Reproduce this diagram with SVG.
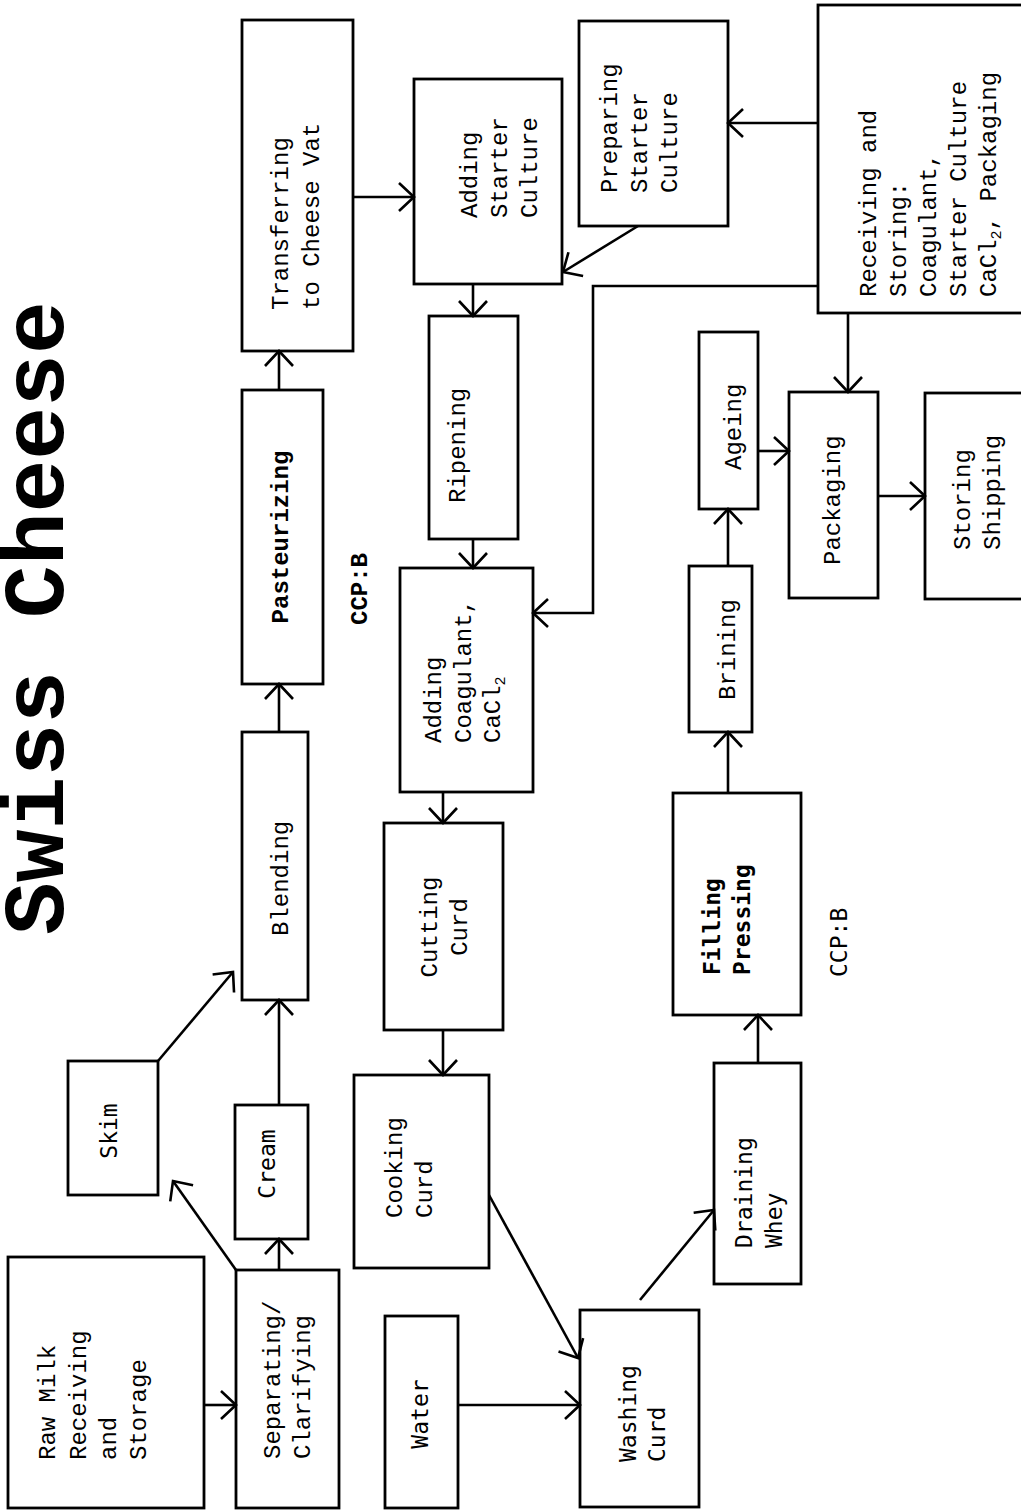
<svg xmlns="http://www.w3.org/2000/svg" width="1021" height="1512" viewBox="0 0 1021 1512">
<style>
.box{fill:none;stroke:#000;stroke-width:2.8}
.ln{fill:none;stroke:#000;stroke-width:2.6}
.c{font-family:"Liberation Mono","Courier New",monospace;font-size:24px;fill:#000}
.s{font-family:"DejaVu Sans Mono","Liberation Mono",monospace;font-size:23px;fill:#000}
.b{font-weight:bold}
.m{text-anchor:middle}
.sub{font-size:15px}
.title{font-family:"Liberation Mono","Courier New",monospace;font-size:88px;font-weight:bold;fill:#000}
</style>
<defs>
<marker id="a" viewBox="-20 -16 24 32" refX="0" refY="0" markerWidth="24" markerHeight="32" markerUnits="userSpaceOnUse" orient="auto" overflow="visible">
<path d="M-15,-14 L0,0 L-15,14" fill="none" stroke="#000" stroke-width="2.6"/>
</marker>
</defs>
<rect width="1021" height="1512" fill="#fff"/>

<text class="title" transform="rotate(-90)" x="-935" y="63">Swiss Cheese</text>

<g id="connectors" class="ln" marker-end="url(#a)">
<path d="M204,1405 L236,1405"/>
<path d="M279,1270 L279,1239"/>
<path d="M236,1270 L173,1181"/>
<path d="M279,1105 L279,1000"/>
<path d="M158,1061 L233,972"/>
<path d="M279,732 L279,684"/>
<path d="M279,390 L279,351"/>
<path d="M353,197 L414,197"/>
<path d="M638,226 L563,272"/>
<path d="M818,123 L728,123"/>
<path d="M473,284 L473,316"/>
<path d="M473,539 L473,568"/>
<path d="M818,286 L593,286 L593,613 L533,613"/>
<path d="M443,792 L443,823"/>
<path d="M443,1030 L443,1075"/>
<path d="M489,1195 L578,1358"/>
<path d="M458,1405 L580,1405"/>
<path d="M640,1300 L714,1210"/>
<path d="M758,1063 L758,1015"/>
<path d="M728,793 L728,732"/>
<path d="M728,566 L728,509"/>
<path d="M758,451 L789,451"/>
<path d="M848,313 L848,392"/>
<path d="M878,496 L925,496"/>
</g>

<g id="raw-milk">
<rect class="box" x="8" y="1257" width="196" height="251"/>
<text class="c" transform="rotate(-90)"><tspan x="-1460" y="55">Raw Milk</tspan><tspan x="-1460" y="86">Receiving</tspan><tspan x="-1460" y="116">and</tspan><tspan x="-1460" y="146">Storage</tspan></text>
</g>
<g id="separating">
<rect class="box" x="236" y="1270" width="103" height="238"/>
<text class="c" transform="rotate(-90)"><tspan x="-1459" y="280">Separating/</tspan><tspan x="-1459" y="310">Clarifying</tspan></text>
</g>
<g id="skim">
<rect class="box" x="68" y="1061" width="90" height="134"/>
<text class="s m" transform="rotate(-90)" x="-1131" y="117">Skim</text>
</g>
<g id="cream">
<rect class="box" x="235" y="1105" width="73" height="134"/>
<text class="s m" transform="rotate(-90)" x="-1164" y="275">Cream</text>
</g>
<g id="blending">
<rect class="box" x="242" y="732" width="66" height="268"/>
<text class="c" transform="rotate(-90)" x="-936" y="288">Blending</text>
</g>
<g id="pasteurizing">
<rect class="box" x="242" y="390" width="81" height="294"/>
<text class="c b m" transform="rotate(-90)" x="-537" y="288">Pasteurizing</text>
</g>
<g id="ccp1">
<text class="c b" transform="rotate(-90)" x="-625" y="367">CCP:B</text>
</g>
<g id="transferring">
<rect class="box" x="242" y="20" width="111" height="331"/>
<text class="c" transform="rotate(-90)"><tspan x="-310" y="288">Transferring</tspan><tspan x="-310" y="319">to Cheese Vat</tspan></text>
</g>
<g id="adding-starter">
<rect class="box" x="414" y="79" width="148" height="205"/>
<text class="c" transform="rotate(-90)"><tspan x="-218" y="477">Adding</tspan><tspan x="-218" y="507">Starter</tspan><tspan x="-218" y="537">Culture</tspan></text>
</g>
<g id="preparing-starter">
<rect class="box" x="579" y="21" width="149" height="205"/>
<text class="c" transform="rotate(-90)"><tspan x="-193" y="617">Preparing</tspan><tspan x="-193" y="647">Starter</tspan><tspan x="-193" y="677">Culture</tspan></text>
</g>
<g id="receiving-storing">
<rect class="box" x="818" y="5" width="210" height="308"/>
<text class="c" transform="rotate(-90)"><tspan x="-297" y="876">Receiving and</tspan><tspan x="-297" y="906">Storing:</tspan><tspan x="-297" y="936">Coagulant,</tspan><tspan x="-297" y="966">Starter Culture</tspan><tspan x="-297" y="996">CaCl<tspan class="sub" dy="5">2</tspan><tspan dy="-5">, Packaging</tspan></tspan></text>
</g>
<g id="ripening">
<rect class="box" x="429" y="316" width="89" height="223"/>
<text class="c" transform="rotate(-90)" x="-503" y="465">Ripening</text>
</g>
<g id="adding-coagulant">
<rect class="box" x="400" y="568" width="133" height="224"/>
<text class="c" transform="rotate(-90)"><tspan x="-743" y="441">Adding</tspan><tspan x="-743" y="471">Coagulant,</tspan><tspan x="-743" y="500">CaCl<tspan class="sub" dy="5">2</tspan></tspan></text>
</g>
<g id="cutting-curd">
<rect class="box" x="384" y="823" width="119" height="207"/>
<text class="c m" transform="rotate(-90)"><tspan x="-927" y="437">Cutting</tspan><tspan x="-927" y="467">Curd</tspan></text>
</g>
<g id="cooking-curd">
<rect class="box" x="354" y="1075" width="135" height="193"/>
<text class="c" transform="rotate(-90)"><tspan x="-1218" y="402">Cooking</tspan><tspan x="-1218" y="432">Curd</tspan></text>
</g>
<g id="water">
<rect class="box" x="385" y="1316" width="73" height="192"/>
<text class="s m" transform="rotate(-90)" x="-1414" y="428">Water</text>
</g>
<g id="washing-curd">
<rect class="box" x="580" y="1310" width="119" height="197"/>
<text class="s" transform="rotate(-90)"><tspan x="-1462" y="636">Washing</tspan><tspan x="-1462" y="665">Curd</tspan></text>
</g>
<g id="draining-whey">
<rect class="box" x="714" y="1063" width="87" height="221"/>
<text class="s" transform="rotate(-90)"><tspan x="-1248" y="752">Draining</tspan><tspan x="-1248" y="782">Whey</tspan></text>
</g>
<g id="filling-pressing">
<rect class="box" x="673" y="793" width="128" height="222"/>
<text class="s b" transform="rotate(-90)"><tspan x="-975" y="720">Filling</tspan><tspan x="-975" y="750">Pressing</tspan></text>
</g>
<g id="ccp2">
<text class="s" transform="rotate(-90)" x="-977" y="847">CCP:B</text>
</g>
<g id="brining">
<rect class="box" x="689" y="566" width="63" height="166"/>
<text class="c" transform="rotate(-90)" x="-700" y="735">Brining</text>
</g>
<g id="ageing">
<rect class="box" x="699" y="332" width="59" height="177"/>
<text class="c" transform="rotate(-90)" x="-470" y="741">Ageing</text>
</g>
<g id="packaging">
<rect class="box" x="789" y="392" width="89" height="206"/>
<text class="c" transform="rotate(-90)" x="-565" y="840">Packaging</text>
</g>
<g id="storing-shipping">
<rect class="box" x="925" y="393" width="103" height="206"/>
<text class="c" transform="rotate(-90)"><tspan x="-550" y="970">Storing</tspan><tspan x="-550" y="1000">Shipping</tspan></text>
</g>
</svg>
